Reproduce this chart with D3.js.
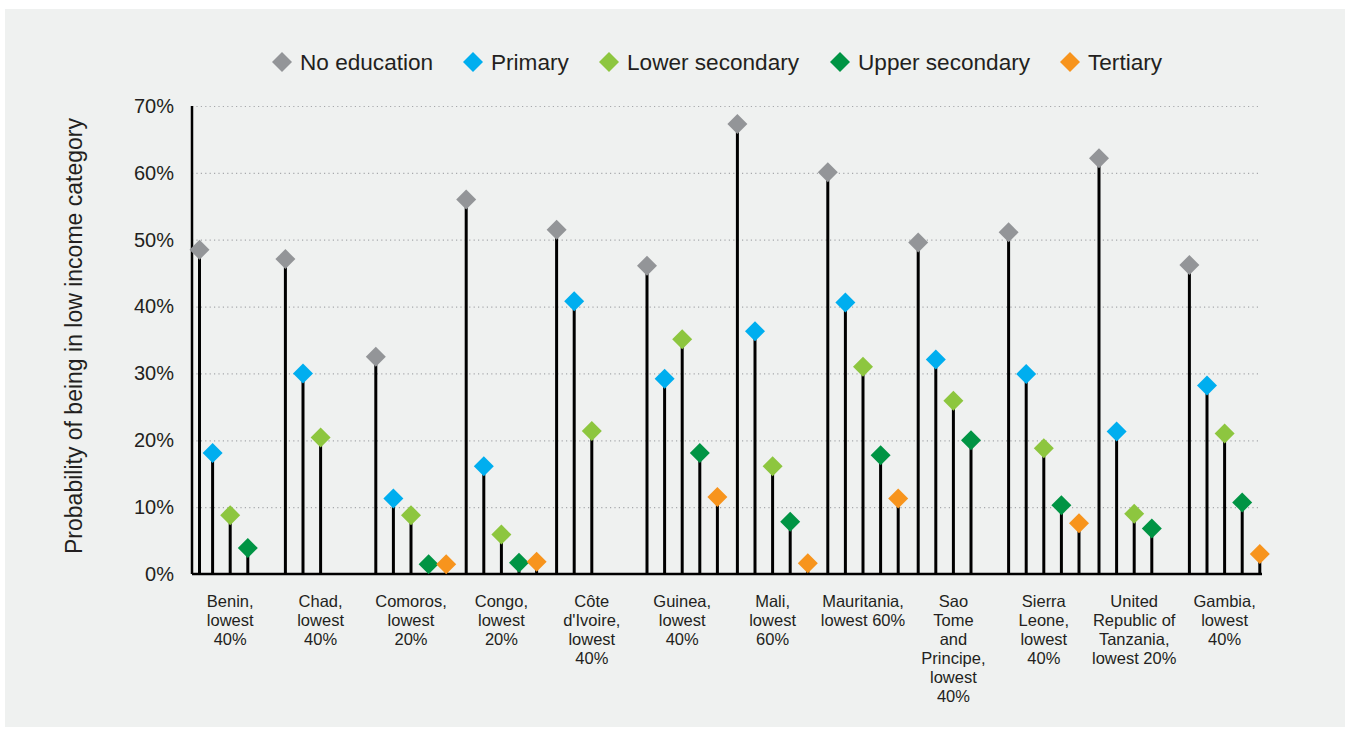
<!DOCTYPE html>
<html>
<head>
<meta charset="utf-8">
<script src="https://cdn.jsdelivr.net/npm/d3@7"></script>
<style>
  body { margin: 0; background: #ffffff; }
  svg { display: block; font-family: "Liberation Sans", Arial, sans-serif; }
</style>
</head>
<body>
<div id="chart"></div>
<script>
// country labels, one entry per line of the wrapped label
const countries = ["Benin", "Chad", "Comoros", "Congo", "Cote", "Guinea", "Mali",
    "Mauritania", "SaoTome", "SierraLeone", "Tanzania", "Gambia"];
const countryLabels = [
    ["Benin,", "lowest", "40%"],
    ["Chad,", "lowest", "40%"],
    ["Comoros,", "lowest", "20%"],
    ["Congo,", "lowest", "20%"],
    ["Côte", "d'Ivoire,", "lowest", "40%"],
    ["Guinea,", "lowest", "40%"],
    ["Mali,", "lowest", "60%"],
    ["Mauritania,", "lowest 60%"],
    ["Sao", "Tome", "and", "Principe,", "lowest", "40%"],
    ["Sierra", "Leone,", "lowest", "40%"],
    ["United", "Republic of", "Tanzania,", "lowest 20%"],
    ["Gambia,", "lowest", "40%"]
];

const seriesNames = ["No education", "Primary", "Lower secondary", "Upper secondary", "Tertiary"];
const seriesColors = ["#939598", "#00aeef", "#8dc63f", "#009444", "#f7941d"];

// probability of being in low income category (%), null = not shown
const noEducation    = [48.5, 47.1, 32.5, 56.0, 51.5, 46.1, 67.3, 60.1, 49.6, 51.1, 62.2, 46.2];
const primary        = [18.1, 30.0, 11.3, 16.1, 40.8, 29.2, 36.3, 40.6, 32.1, 29.9, 21.3, 28.2];
const lowerSecondary = [8.8, 20.4, 8.8, 5.9, 21.4, 35.1, 16.1, 31.0, 25.9, 18.8, 9.0, 21.0];
const upperSecondary = [3.9, null, 1.45, 1.7, null, 18.1, 7.8, 17.75, 20.0, 10.3, 6.8, 10.7];
const tertiary       = [null, null, 1.45, 1.85, null, 11.5, 1.6, 11.3, null, 7.6, null, 3.0];

const yTicks = [0, 10, 20, 30, 40, 50, 60, 70];

const seriesValues = [noEducation, primary, lowerSecondary, upperSecondary, tertiary];

const W = 1350, H = 730;
const margin = {top: 106, right: 88, bottom: 156, left: 192};
const plotW = W - margin.left - margin.right;
const plotH = H - margin.top - margin.bottom;

const svg = d3.select("#chart").append("svg")
    .attr("width", W)
    .attr("height", H);

// grey panel
svg.append("rect")
    .attr("x", 5).attr("y", 9)
    .attr("width", 1340).attr("height", 718)
    .attr("fill", "#eff1f0");

const g = svg.append("g")
    .attr("transform", "translate(" + margin.left + "," + margin.top + ")");

const y = d3.scaleLinear().domain([0, 70]).range([plotH, 0]);

const groupStep = 90.4;
const x = d3.scaleBand()
    .domain(countries)
    .range([3, 3 + groupStep * countries.length])
    .paddingInner(0).paddingOuter(0);
const xs = d3.scalePoint()
    .domain(seriesNames)
    .range([0, 70.4]);

// gridlines
const grid = g.append("g")
    .call(d3.axisLeft(y).tickValues(yTicks.slice(1)).tickSize(-1066).tickFormat(""));
grid.select(".domain").remove();
grid.selectAll("line")
    .attr("stroke", "#a7a9ac")
    .attr("stroke-width", 1.2)
    .attr("stroke-dasharray", "1.2,3.2");

// y tick labels
const yAxis = g.append("g")
    .call(d3.axisLeft(y).tickValues(yTicks).tickSize(0).tickPadding(18).tickFormat(d => d + "%"));
yAxis.select(".domain").remove();
yAxis.selectAll("text")
    .attr("font-size", 20)
    .attr("font-family", "Liberation Sans, Arial, sans-serif")
    .attr("fill", "#231f20");

// axis lines
g.append("line")
    .attr("x1", 0).attr("x2", 0)
    .attr("y1", y(70)).attr("y2", y(0))
    .attr("stroke", "#000").attr("stroke-width", 2.5);
g.append("line")
    .attr("x1", 0).attr("x2", 1070)
    .attr("y1", y(0)).attr("y2", y(0))
    .attr("stroke", "#000").attr("stroke-width", 2.5);

// y axis title
svg.append("text")
    .attr("transform", "translate(82," + (margin.top + y(35) - 4) + ") rotate(-90)")
    .attr("text-anchor", "middle")
    .attr("font-size", 23)
    .attr("fill", "#231f20")
    .text("Probability of being in low income category");

// flatten the series into points
let points = [];
seriesNames.forEach(function (s, si) {
    countries.forEach(function (c, ci) {
        const v = seriesValues[si][ci];
        if (v == null) return;
        let px = x(c) + xs(s);
        // first stem sits just clear of the axis line
        px = Math.max(px, 7.5);
        points.push({series: s, si: si, country: c, value: v, px: px});
    });
});

// stems
g.append("g").selectAll("line")
    .data(points)
    .join("line")
    .attr("x1", d => d.px).attr("x2", d => d.px)
    .attr("y1", y(0)).attr("y2", d => y(d.value))
    .attr("stroke", "#000")
    .attr("stroke-width", 3);

// diamonds
const diamond = d3.symbol().type(d3.symbolSquare).size(200);
g.append("g").selectAll("path")
    .data(points)
    .join("path")
    .attr("d", diamond)
    .attr("transform", d => "translate(" + d.px + "," + y(d.value) + ") rotate(45)")
    .attr("fill", d => seriesColors[d.si]);

// category labels
const labels = g.append("g").selectAll("text")
    .data(countries)
    .join("text")
    .attr("text-anchor", "middle")
    .attr("font-size", 16.5)
    .attr("fill", "#231f20")
    .attr("x", d => x(d) + 35.2)
    .attr("y", plotH + 33);
labels.each(function (c, i) {
    d3.select(this).selectAll("tspan")
        .data(countryLabels[i])
        .join("tspan")
        .attr("x", x(c) + 35.2)
        .attr("dy", (d, j) => j === 0 ? 0 : 19)
        .text(d => d);
});

// legend
const legendX = [282, 473, 609, 840, 1070];
const legend = svg.append("g").selectAll("g")
    .data(seriesNames)
    .join("g")
    .attr("transform", (d, i) => "translate(" + legendX[i] + ",62)");
legend.append("path")
    .attr("d", diamond)
    .attr("transform", "rotate(45)")
    .attr("fill", (d, i) => seriesColors[i]);
legend.append("text")
    .attr("x", 18)
    .attr("dy", "0.36em")
    .attr("font-size", 22.6)
    .attr("fill", "#231f20")
    .text(d => d);
</script>
</body>
</html>
